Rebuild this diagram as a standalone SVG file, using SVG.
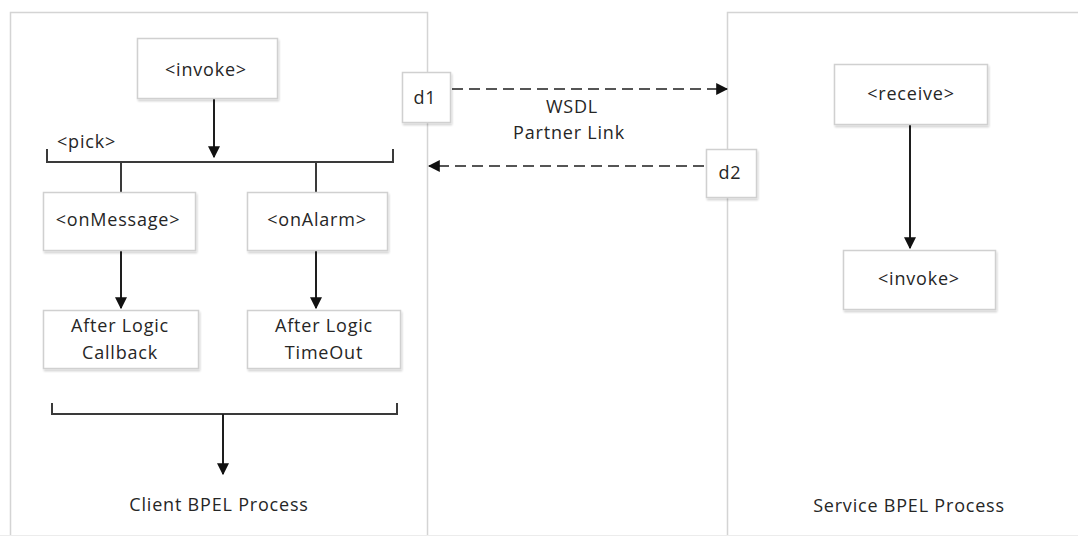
<svg xmlns="http://www.w3.org/2000/svg" width="1078" height="536" viewBox="0 0 1078 536">
  <style>
    .panel { fill: #ffffff; stroke: #d4d4d4; stroke-width: 1.5; }
    .box { fill: #ffffff; stroke: #d0d0d0; stroke-width: 1.5; filter: url(#shadow); }
    .lbl { font-family: "Open Sans", "Noto Sans", "Liberation Sans", sans-serif; font-size: 18px; letter-spacing: 0.8px; fill: #262626; text-anchor: middle; }
    .line { fill: none; stroke: #3a3a3a; stroke-width: 2; }
    .arrow { fill: none; stroke: #1e1e1e; stroke-width: 2; marker-end: url(#head); }
    .dash { fill: none; stroke: #555555; stroke-width: 2; stroke-dasharray: 11 6; marker-end: url(#head); }
  </style>
  <defs>
    <filter id="shadow" x="-10%" y="-10%" width="125%" height="130%">
      <feGaussianBlur in="SourceAlpha" stdDeviation="1.2"/>
      <feOffset dx="1" dy="1.5" result="b"/>
      <feComponentTransfer><feFuncA type="linear" slope="0.18"/></feComponentTransfer>
      <feMerge><feMergeNode/><feMergeNode in="SourceGraphic"/></feMerge>
    </filter>
    <marker id="head" viewBox="0 0 10 10" refX="9" refY="5" markerWidth="6" markerHeight="6" markerUnits="strokeWidth" orient="auto">
      <path d="M0,0 L10,5 L0,10 Z" fill="#111111"/>
    </marker>
  </defs>

  <rect width="1078" height="536" fill="#ffffff"/>

  <!-- process panels (run off the bottom edge) -->
  <g id="client-process">
    <rect class="panel" x="10.5" y="12.5" width="417" height="540"/>
    <text class="lbl" x="219" y="511">Client BPEL Process</text>
  </g>
  <g id="service-process">
    <rect class="panel" x="727.5" y="12.5" width="370" height="540"/>
    <text class="lbl" x="909" y="512">Service BPEL Process</text>
  </g>
  <line x1="0" y1="535.5" x2="1078" y2="535.5" stroke="#ececec" stroke-width="1"/>

  <!-- connectors -->
  <g id="connectors">
    <path class="arrow" d="M214,98 V157"/>
    <path class="line" d="M47,149 V162 H393 V149"/>
    <path class="line" d="M121,162 V192 M316,162 V192"/>
    <path class="arrow" d="M121,250 V308"/>
    <path class="arrow" d="M316,250 V308"/>
    <path class="line" d="M52,403 V414 H397 V403"/>
    <path class="arrow" d="M223,414 V474"/>
    <path class="dash" d="M452,89 H727"/>
    <path class="dash" d="M704,166 H429"/>
    <path class="arrow" d="M910,124 V248"/>
  </g>

  <text class="lbl" x="57" y="148" style="text-anchor:start">&lt;pick&gt;</text>

  <g id="client-invoke">
    <rect class="box" x="137.5" y="38.5" width="140" height="60"/>
    <text class="lbl" x="206" y="76">&lt;invoke&gt;</text>
  </g>
  <g id="on-message">
    <rect class="box" x="43.5" y="192.5" width="152" height="58"/>
    <text class="lbl" x="118" y="226">&lt;onMessage&gt;</text>
  </g>
  <g id="on-alarm">
    <rect class="box" x="247.5" y="192.5" width="140" height="58"/>
    <text class="lbl" x="317" y="226">&lt;onAlarm&gt;</text>
  </g>
  <g id="after-callback">
    <rect class="box" x="43.5" y="310.5" width="155" height="58"/>
    <text class="lbl" x="120" y="332">After Logic</text>
    <text class="lbl" x="120" y="359">Callback</text>
  </g>
  <g id="after-timeout">
    <rect class="box" x="247.5" y="310.5" width="153" height="58"/>
    <text class="lbl" x="324" y="332">After Logic</text>
    <text class="lbl" x="324" y="359">TimeOut</text>
  </g>

  <g id="d1">
    <rect class="box" x="402.5" y="72.5" width="48" height="50"/>
    <text class="lbl" x="425" y="104">d1</text>
  </g>
  <g id="d2">
    <rect class="box" x="706.5" y="149.5" width="50" height="48"/>
    <text class="lbl" x="730" y="179">d2</text>
  </g>
  <g id="partner-link">
    <text class="lbl" x="572" y="113">WSDL</text>
    <text class="lbl" x="569" y="139">Partner Link</text>
  </g>

  <g id="receive">
    <rect class="box" x="834.5" y="64.5" width="153" height="60"/>
    <text class="lbl" x="911" y="100">&lt;receive&gt;</text>
  </g>
  <g id="service-invoke">
    <rect class="box" x="843.5" y="250.5" width="152" height="59"/>
    <text class="lbl" x="919" y="285">&lt;invoke&gt;</text>
  </g>
</svg>
